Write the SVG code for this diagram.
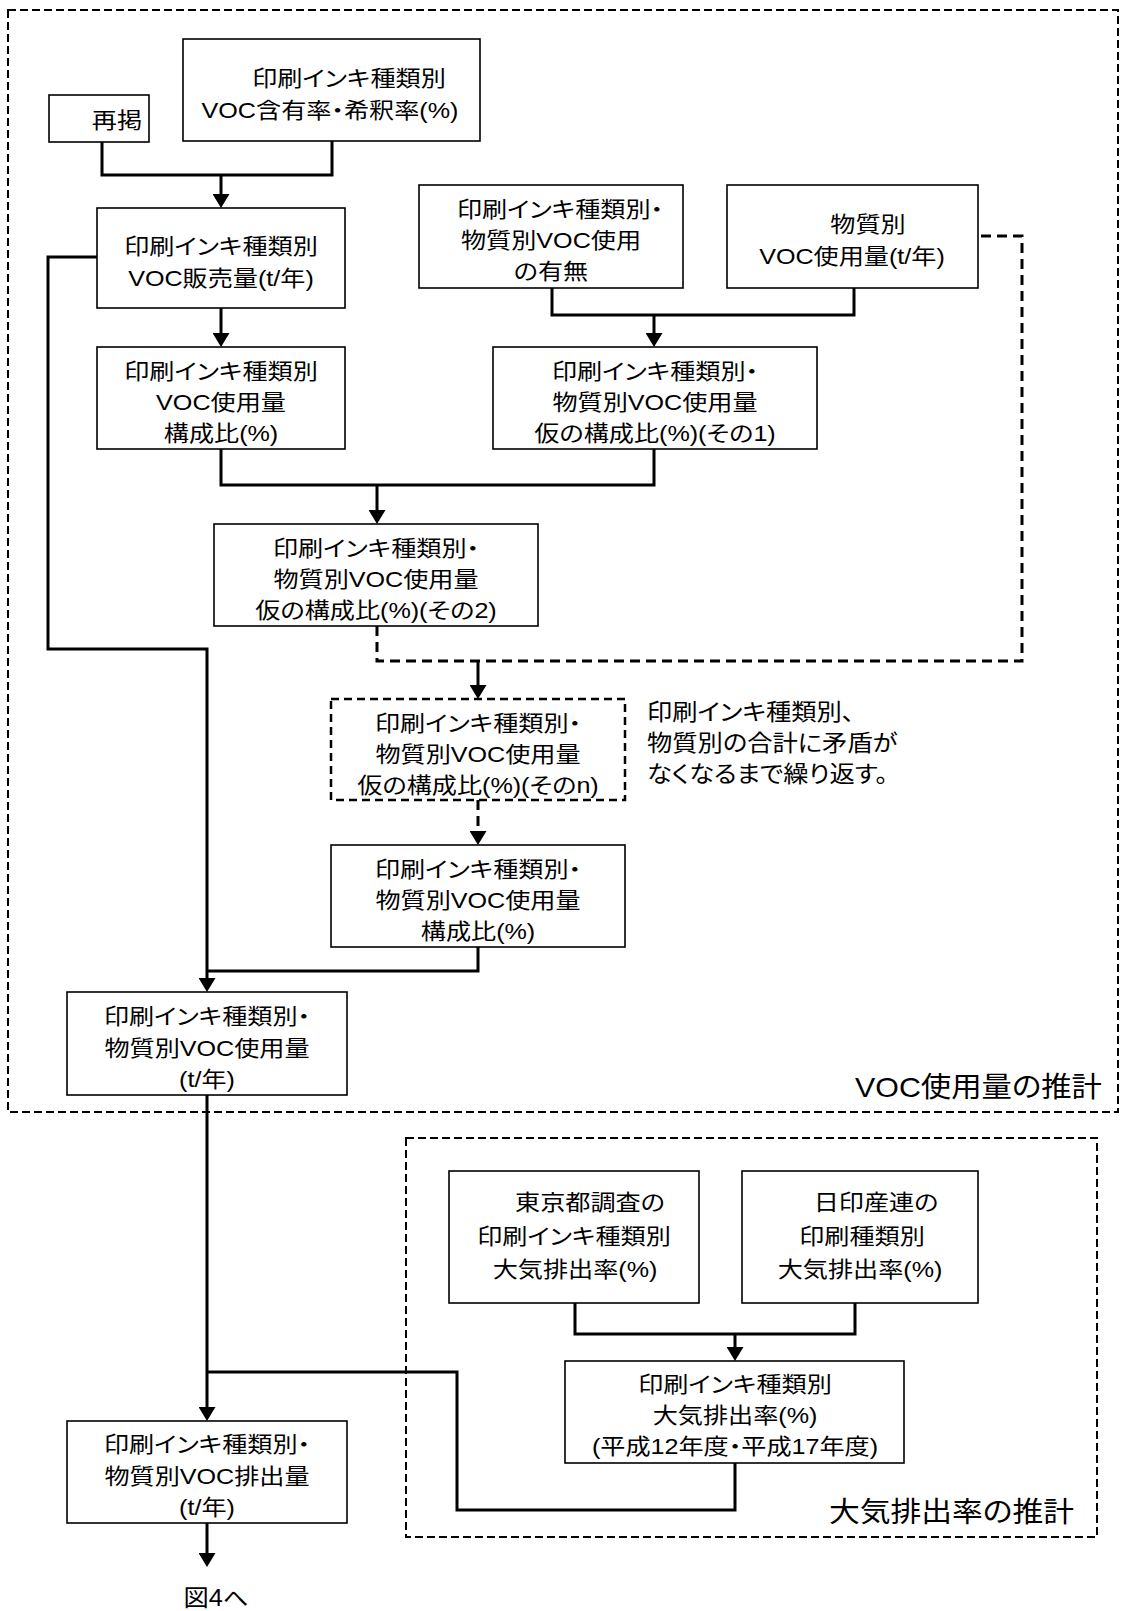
<svg xmlns="http://www.w3.org/2000/svg" width="1125" height="1611" viewBox="0 0 1125 1611">
<style>
text{font-family:"Liberation Sans","Noto Sans CJK JP",sans-serif;font-size:21.5px;fill:#000;font-feature-settings:"palt";}
.c{text-anchor:middle;}
.box{fill:#fff;stroke:#000;stroke-width:1.6;}
.dbox{fill:#fff;stroke:#000;stroke-width:2.5;stroke-dasharray:8 5;}
.frame{fill:none;stroke:#000;stroke-width:2;stroke-dasharray:8 4;}
.ln{fill:none;stroke:#000;stroke-width:3;}
.dl{fill:none;stroke:#000;stroke-width:3;stroke-dasharray:10 6;}
.ar{marker-end:url(#ah);}
.lbl{font-size:28px;}
.note{font-size:23px;}
</style>
<defs>
<marker id="ah" markerWidth="17" markerHeight="17" refX="6" refY="8.5" orient="auto" markerUnits="userSpaceOnUse"><path d="M0,0 L14,8.5 L0,17 z" fill="#000"/></marker>
</defs>
<rect width="1125" height="1611" fill="#fff"/>
<g id="frames">
<rect class="frame" x="8" y="10" width="1110" height="1102"/>
<rect class="frame" x="406" y="1138" width="691" height="399"/>
<text class="lbl" x="855" y="1097" textLength="247" lengthAdjust="spacingAndGlyphs">VOC使用量の推計</text>
<text class="lbl" x="829" y="1522" textLength="245" lengthAdjust="spacingAndGlyphs">大気排出率の推計</text>
</g>
<g id="connectors">
<path class="ln" d="M102,142 V175 H332 V141"/>
<path class="ln ar" d="M221,175 V200"/>
<path class="ln ar" d="M221,308 V339"/>
<path class="ln" d="M552,288 V315 H854 V288"/>
<path class="ln ar" d="M654,315 V339"/>
<path class="ln" d="M221,449 V485 H654 V449"/>
<path class="ln ar" d="M377,485 V516"/>
<path class="dl" d="M377,626 V661 H1022 V236 H978"/>
<path class="ln ar" d="M478,661 V691"/>
<path class="dl ar" d="M478,800 V837"/>
<path class="ln" d="M478,947 V971 H207"/>
<path class="ln ar" d="M97,257 H48 V649 H207 V984"/>
<path class="ln ar" d="M207,1095 V1413"/>
<path class="ln ar" d="M207,1523 V1559"/>
<path class="ln" d="M575,1303 V1334 H855 V1303"/>
<path class="ln ar" d="M735,1334 V1353"/>
<path class="ln" d="M735,1463 V1510 H457 V1372 H207"/>
</g>
<g id="n-saikei">
<rect class="box" x="49" y="95" width="100" height="47"/>
<text class="c" transform="matrix(1.17 0 0 1 117 128)">再掲</text>
</g>
<g id="n-ganyu">
<rect class="box" x="183" y="39" width="297" height="102"/>
<text class="c" transform="matrix(1.17 0 0 1 349 86)">印刷インキ種類別</text>
<text class="c" transform="matrix(1.17 0 0 1 330 118)">VOC含有率・希釈率(%)</text>
</g>
<g id="n-hanbai">
<rect class="box" x="97" y="208" width="248" height="100"/>
<text class="c" transform="matrix(1.17 0 0 1 221 254)">印刷インキ種類別</text>
<text class="c" transform="matrix(1.17 0 0 1 221 286)">VOC販売量(t/年)</text>
</g>
<g id="n-kousei1">
<rect class="box" x="97" y="347" width="248" height="102"/>
<text class="c" transform="matrix(1.17 0 0 1 221 379)">印刷インキ種類別</text>
<text class="c" transform="matrix(1.17 0 0 1 221 410)">VOC使用量</text>
<text class="c" transform="matrix(1.17 0 0 1 221 441)">構成比(%)</text>
</g>
<g id="n-umu">
<rect class="box" x="419" y="185" width="264" height="103"/>
<text class="c" transform="matrix(1.17 0 0 1 560 217)">印刷インキ種類別・</text>
<text class="c" transform="matrix(1.17 0 0 1 551 248)">物質別VOC使用</text>
<text class="c" transform="matrix(1.17 0 0 1 551 279)">の有無</text>
</g>
<g id="n-busshitsu">
<rect class="box" x="727" y="185" width="251" height="103"/>
<text class="c" transform="matrix(1.17 0 0 1 868 232)">物質別</text>
<text class="c" transform="matrix(1.17 0 0 1 852 264)">VOC使用量(t/年)</text>
</g>
<g id="n-kari1">
<rect class="box" x="493" y="347" width="324" height="102"/>
<text class="c" transform="matrix(1.17 0 0 1 655 379)">印刷インキ種類別・</text>
<text class="c" transform="matrix(1.17 0 0 1 655 410)">物質別VOC使用量</text>
<text class="c" transform="matrix(1.17 0 0 1 655 441)">仮の構成比(%)(その1)</text>
</g>
<g id="n-kari2">
<rect class="box" x="214" y="524" width="324" height="102"/>
<text class="c" transform="matrix(1.17 0 0 1 376 556)">印刷インキ種類別・</text>
<text class="c" transform="matrix(1.17 0 0 1 376 587)">物質別VOC使用量</text>
<text class="c" transform="matrix(1.17 0 0 1 376 618)">仮の構成比(%)(その2)</text>
</g>
<g id="n-karin">
<rect class="dbox" x="331" y="699" width="294" height="101"/>
<text class="c" transform="matrix(1.17 0 0 1 478 731)">印刷インキ種類別・</text>
<text class="c" transform="matrix(1.17 0 0 1 478 762)">物質別VOC使用量</text>
<text class="c" transform="matrix(1.17 0 0 1 478 793)">仮の構成比(%)(そのn)</text>
</g>
<g id="note">
<text class="note" transform="matrix(1.1 0 0 1 647 720)">印刷インキ種類別、</text>
<text class="note" transform="matrix(1.1 0 0 1 647 751)">物質別の合計に矛盾が</text>
<text class="note" transform="matrix(1.1 0 0 1 647 782)">なくなるまで繰り返す。</text>
</g>
<g id="n-kousei2">
<rect class="box" x="331" y="845" width="294" height="102"/>
<text class="c" transform="matrix(1.17 0 0 1 478 877)">印刷インキ種類別・</text>
<text class="c" transform="matrix(1.17 0 0 1 478 908)">物質別VOC使用量</text>
<text class="c" transform="matrix(1.17 0 0 1 478 939)">構成比(%)</text>
</g>
<g id="n-shiyou">
<rect class="box" x="67" y="992" width="280" height="103"/>
<text class="c" transform="matrix(1.17 0 0 1 207 1024)">印刷インキ種類別・</text>
<text class="c" transform="matrix(1.17 0 0 1 207 1056)">物質別VOC使用量</text>
<text class="c" transform="matrix(1.17 0 0 1 207 1087)">(t/年)</text>
</g>
<g id="n-tokyo">
<rect class="box" x="449" y="1171" width="250" height="132"/>
<text class="c" transform="matrix(1.17 0 0 1 590 1210)">東京都調査の</text>
<text class="c" transform="matrix(1.17 0 0 1 574 1244)">印刷インキ種類別</text>
<text class="c" transform="matrix(1.17 0 0 1 575 1277)">大気排出率(%)</text>
</g>
<g id="n-nichiin">
<rect class="box" x="742" y="1171" width="236" height="132"/>
<text class="c" transform="matrix(1.17 0 0 1 876 1210)">日印産連の</text>
<text class="c" transform="matrix(1.17 0 0 1 862 1244)">印刷種類別</text>
<text class="c" transform="matrix(1.17 0 0 1 860 1277)">大気排出率(%)</text>
</g>
<g id="n-haishutsuritsu">
<rect class="box" x="565" y="1361" width="339" height="102"/>
<text class="c" transform="matrix(1.17 0 0 1 735 1392)">印刷インキ種類別</text>
<text class="c" transform="matrix(1.17 0 0 1 735 1423)">大気排出率(%)</text>
<text class="c" transform="matrix(1.17 0 0 1 735 1454)">(平成12年度・平成17年度)</text>
</g>
<g id="n-haishutsu">
<rect class="box" x="67" y="1421" width="280" height="102"/>
<text class="c" transform="matrix(1.17 0 0 1 207 1452)">印刷インキ種類別・</text>
<text class="c" transform="matrix(1.17 0 0 1 207 1484)">物質別VOC排出量</text>
<text class="c" transform="matrix(1.17 0 0 1 207 1515)">(t/年)</text>
</g>
<g id="n-fig4">
<text class="c" transform="matrix(1.1 0 0 1 216 1606)" style="font-size:23px">図4へ</text>
</g>
</svg>
